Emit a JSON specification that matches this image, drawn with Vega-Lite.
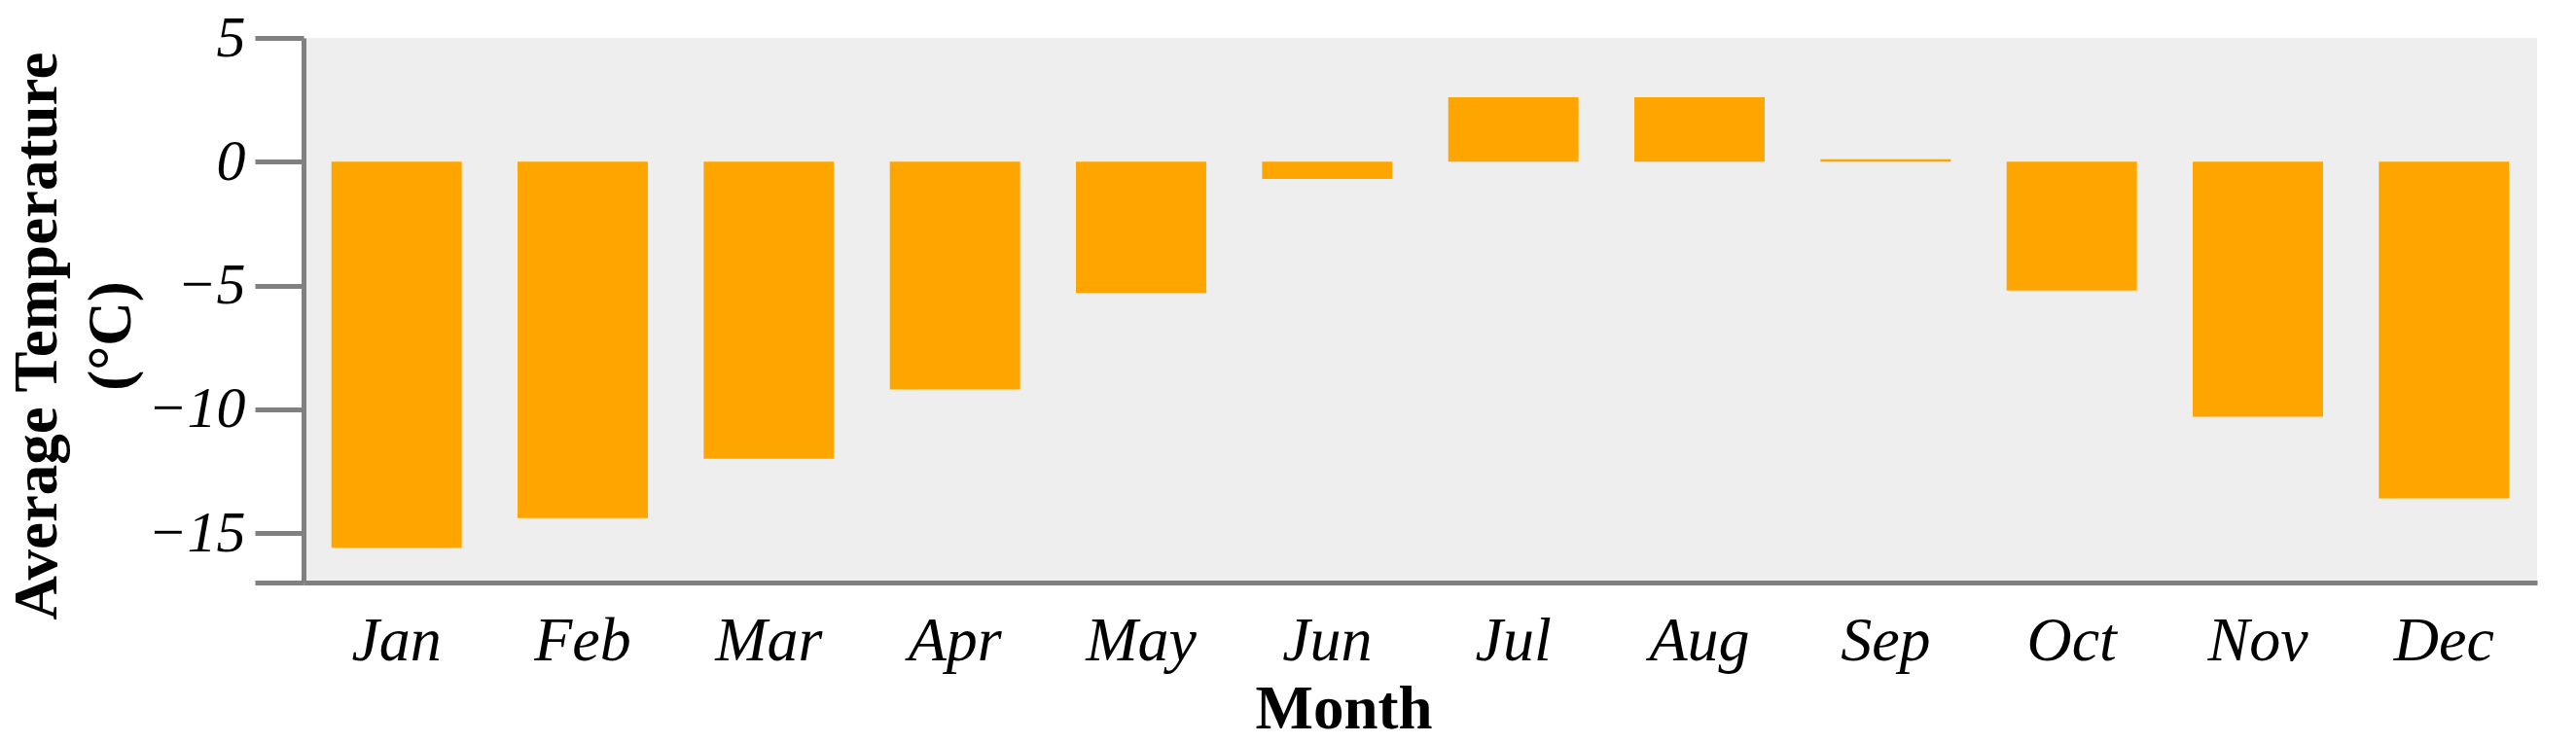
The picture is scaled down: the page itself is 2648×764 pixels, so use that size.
{
  "$schema": "https://vega.github.io/schema/vega-lite/v6.json",
  "autosize": {"type": "none"},
  "padding": {"left": 312, "top": 39, "right": 40, "bottom": 165},
  "width": 2296,
  "height": 560,
  "background": "white",
  "config": {
    "view": {"fill": "#eeeeee", "stroke": null},
    "font": "Liberation Serif"
  },
  "data": {
    "values": [
      {"month": "Jan", "temp": -15.6},
      {"month": "Feb", "temp": -14.4},
      {"month": "Mar", "temp": -12.0},
      {"month": "Apr", "temp": -9.2},
      {"month": "May", "temp": -5.3},
      {"month": "Jun", "temp": -0.7},
      {"month": "Jul", "temp": 2.6},
      {"month": "Aug", "temp": 2.6},
      {"month": "Sep", "temp": 0.1},
      {"month": "Oct", "temp": -5.2},
      {"month": "Nov", "temp": -10.3},
      {"month": "Dec", "temp": -13.6}
    ]
  },
  "mark": {"type": "bar", "color": "#FFA500"},
  "encoding": {
    "x": {
      "field": "month",
      "type": "nominal",
      "sort": null,
      "scale": {"paddingInner": 0.3, "paddingOuter": 0.15},
      "axis": {
        "title": "Month",
        "titleFont": "Liberation Serif",
        "titleFontWeight": "bold",
        "titleFontSize": 63,
        "titleColor": "black",
        "titleBaseline": "alphabetic",
        "titleAlign": "center",
        "titleX": 1069,
        "titleY": 149,
        "labelAngle": 0,
        "labelFont": "Liberation Serif",
        "labelFontStyle": "italic",
        "labelFontSize": 64,
        "labelColor": "black",
        "labelBaseline": "alphabetic",
        "labelPadding": 79,
        "ticks": false,
        "tickSize": 0,
        "domainColor": "#808080",
        "domainWidth": 5,
        "grid": false
      }
    },
    "y": {
      "field": "temp",
      "type": "quantitative",
      "scale": {"domain": [-17, 5], "nice": false, "zero": true},
      "axis": {
        "values": [5, 0, -5, -10, -15, -17],
        "labelExpr": "datum.value == -17 ? '' : datum.label",
        "title": ["Average Temperature", "(°C)"],
        "titleFont": "Liberation Serif",
        "titleFontWeight": "bold",
        "titleFontSize": 63,
        "titleColor": "black",
        "titleAngle": -90,
        "titleAlign": "center",
        "titleBaseline": "alphabetic",
        "titleLineHeight": 76,
        "titleX": -255,
        "titleY": 306,
        "labelFont": "Liberation Serif",
        "labelFontStyle": "italic",
        "labelFontSize": 60,
        "labelColor": "black",
        "labelPadding": 10,
        "tickSize": 50,
        "tickWidth": 5,
        "tickColor": "#808080",
        "domainColor": "#808080",
        "domainWidth": 5,
        "grid": false
      }
    }
  }
}
